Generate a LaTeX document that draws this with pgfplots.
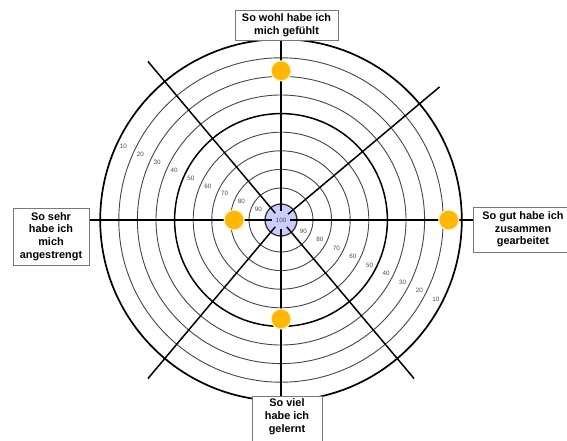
\documentclass[border=0pt]{standalone}
\usepackage{pgfplots}
\pgfplotsset{compat=1.18}
\usepackage{fontspec}
\setmainfont{Liberation Sans}
\usetikzlibrary{shadows}
\definecolor{dotc}{RGB}{255,183,3}
\definecolor{dotb}{RGB}{255,240,190}
\definecolor{lav}{RGB}{204,204,255}
\definecolor{ringc}{RGB}{70,70,70}
\definecolor{boxb}{RGB}{120,120,120}
\begin{document}
\begin{tikzpicture}
\tikzset{bx/.style={draw=boxb, line width=0.9pt, fill=white, align=center, inner sep=2pt,
  font=\fontsize{10.9}{12.7}\selectfont\bfseries,
  drop shadow={shadow xshift=1.2pt, shadow yshift=-1.2pt, opacity=0.25}}}
\tikzset{num/.style={font=\fontsize{6.3}{7}\selectfont, text=black!70, inner sep=0pt}}
\begin{axis}[
  scale only axis, width=567pt, height=440pt,
  xmin=-281, xmax=286, ymin=-220, ymax=220,
  axis lines=none, ticks=none, clip=false,
]
% rings: value 90..10 at radius 32 + (90-v)*1.86
\pgfplotsinvokeforeach{90,80,70,60,40,30,20}{
  \draw[ringc, line width=0.9pt] (axis cs:0,0) circle[radius={(32+(90-#1)*1.86)*1pt}];
}
\draw[black, line width=1.5pt] (axis cs:0,0) circle[radius=106.4pt];
\draw[black, line width=1.7pt] (axis cs:0,0) circle[radius=180.8pt];
% centre circle
\draw[fill=lav, draw=black!80, line width=1.3pt] (axis cs:0,0) circle[radius=16pt];
% spokes
\draw[black, line width=1.5pt] (axis cs:-193,0) -- (axis cs:-9,0);
\draw[black, line width=1.5pt] (axis cs:9,0) -- (axis cs:192,0);
\draw[black, line width=1.5pt] (axis cs:0,9) -- (axis cs:0,180);
\draw[black, line width=1.5pt] (axis cs:0,-9) -- (axis cs:0,-176);
\pgfplotsinvokeforeach{40,130,230,310}{
  \draw[black, line width=1.5pt] (axis cs:{9*cos(#1)},{9*sin(#1)}) -- (axis cs:{207*cos(#1)},{207*sin(#1)});
}
\node[num] at (axis cs:0,0) {100};
% scale labels
\pgfplotsinvokeforeach{90,80,70,60,50,40,30,20,10}{
  \node[num] at (axis cs:{(25+(90-#1)*1.86)*cos(155)},{(25+(90-#1)*1.86)*sin(155)}) {#1};
  \node[num] at (axis cs:{(25+(90-#1)*1.86)*cos(-27)},{(25+(90-#1)*1.86)*sin(-27)}) {#1};
}
% boxes
\node[bx, minimum width=103pt, minimum height=30pt] at (axis cs:5.5,195) {So wohl habe ich\\mich gefühlt};
\node[bx, minimum width=76pt, minimum height=57pt] at (axis cs:-230,-16.5) {So sehr\\habe ich\\mich\\angestrengt};
\node[bx, minimum width=100pt, minimum height=45pt] at (axis cs:242,-9.5) {So gut habe ich\\zusammen\\gearbeitet};
\node[bx, minimum width=70pt, inner ysep=2.5pt, anchor=north] at (axis cs:6,-176) {So viel\\habe ich\\gelernt\\[2pt]};
% self-assessment points: angle (deg), value on the 0-100 scale
\addplot[only marks, mark=*, mark size=10pt,
  mark options={fill=dotc, draw=dotb, line width=1.2pt}]
  table[x expr={(32+(90-\thisrow{value})*1.86)*cos(\thisrow{angle})},
        y expr={(32+(90-\thisrow{value})*1.86)*sin(\thisrow{angle})}] {
angle value
90 27
0 17
180 82
270 54
};
\coordinate (BL) at (axis cs:-281,-220);
\coordinate (TR) at (axis cs:286,220);
\end{axis}
\pgfresetboundingbox
\useasboundingbox (BL) rectangle (TR);
\end{tikzpicture}
\end{document}
